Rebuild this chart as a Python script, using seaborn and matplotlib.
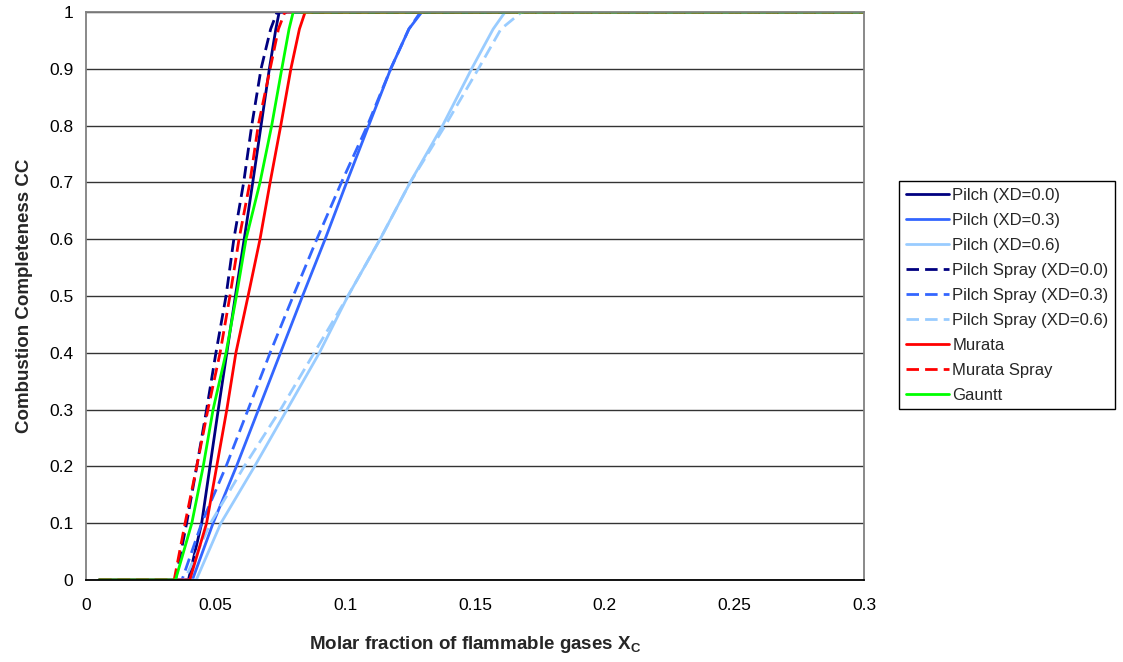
import matplotlib
matplotlib.use("Agg")
import matplotlib.pyplot as plt
import seaborn as sns
import pandas as pd

# ---- data (x at which each curve reaches the CC levels) ----
cc_levels = [0.0, 0.0, 0.1, 0.2, 0.3, 0.4, 0.5, 0.6, 0.7, 0.8, 0.9, 0.97, 1.0, 1.0]
x_start = 0.005
x_end = 0.3

pilch_00 = [0.0395, 0.0446, 0.0478, 0.0510, 0.0543, 0.0576, 0.0610, 0.0643, 0.0675, 0.0707, 0.0732, 0.0745]
pilch_03 = [0.0410, 0.0490, 0.0580, 0.0665, 0.0750, 0.0835, 0.0922, 0.1005, 0.1090, 0.1175, 0.1245, 0.1295]
pilch_06 = [0.0425, 0.0520, 0.0650, 0.0775, 0.0900, 0.1010, 0.1134, 0.1250, 0.1375, 0.1487, 0.1570, 0.1616]
spray_00 = [0.0345, 0.0388, 0.0427, 0.0465, 0.0501, 0.0540, 0.0570, 0.0608, 0.0639, 0.0675, 0.0712, 0.0737]
spray_03 = [0.0370, 0.0446, 0.0540, 0.0625, 0.0710, 0.0799, 0.0890, 0.0985, 0.1085, 0.1175, 0.1245, 0.1290]
spray_06 = [0.0380, 0.0480, 0.0610, 0.0750, 0.0880, 0.1010, 0.1134, 0.1250, 0.1385, 0.1513, 0.1600, 0.1680]
murata = [0.0400, 0.0465, 0.0504, 0.0543, 0.0578, 0.0625, 0.0671, 0.0710, 0.0751, 0.0790, 0.0823, 0.0845]
murata_spray = [0.0340, 0.0382, 0.0427, 0.0470, 0.0517, 0.0555, 0.0590, 0.0632, 0.0664, 0.0710, 0.0742, 0.0767]
gauntt = [0.0345, 0.0408, 0.0452, 0.0490, 0.0540, 0.0580, 0.0617, 0.0671, 0.0716, 0.0755, 0.0783, 0.0799]

labels = ["Pilch (XD=0.0)", "Pilch (XD=0.3)", "Pilch (XD=0.6)",
          "Pilch Spray (XD=0.0)", "Pilch Spray (XD=0.3)", "Pilch Spray (XD=0.6)",
          "Murata", "Murata Spray", "Gauntt"]
series = [pilch_00, pilch_03, pilch_06, spray_00, spray_03, spray_06,
          murata, murata_spray, gauntt]
colors = ["#000080", "#3366FF", "#99CCFF", "#000080", "#3366FF", "#99CCFF",
          "#FF0000", "#FF0000", "#00FF00"]
dashed = [False, False, False, True, True, True, False, True, False]

xticks = [0, 0.05, 0.1, 0.15, 0.2, 0.25, 0.3]
xtick_labels = ["0", "0.05", "0.1", "0.15", "0.2", "0.25", "0.3"]
yticks = [0, 0.1, 0.2, 0.3, 0.4, 0.5, 0.6, 0.7, 0.8, 0.9, 1.0]
ytick_labels = ["0", "0.1", "0.2", "0.3", "0.4", "0.5", "0.6", "0.7", "0.8", "0.9", "1"]

# ---- style ----
sns.set_style("white")
plt.rcParams["font.family"] = ["Liberation Sans", "DejaVu Sans"]
plt.rcParams["mathtext.fontset"] = "custom"
plt.rcParams["mathtext.rm"] = "Liberation Sans"
plt.rcParams["mathtext.bf"] = "Liberation Sans:bold"

fig = plt.figure(figsize=(11.23, 6.62), dpi=100)
ax = fig.add_axes([86 / 1123, 1 - 580 / 662, (864 - 86) / 1123, (580 - 12) / 662])

for lab, xs, col, dsh in zip(labels, series, colors, dashed):
    df = pd.DataFrame({"x": [x_start] + xs + [x_end], "cc": cc_levels})
    kw = dict(linestyle=(0, (4.5, 2.2))) if dsh else dict(linestyle="-")
    sns.lineplot(data=df, x="x", y="cc", ax=ax, color=col, lw=2.0,
                 label=lab, estimator=None, sort=False, **kw)

ax.set_xlim(0, 0.3)
ax.set_ylim(0, 1)
ax.set_xticks(xticks)
ax.set_xticklabels(xtick_labels)
ax.set_yticks(yticks)
ax.set_yticklabels(ytick_labels)
ax.tick_params(axis="both", labelsize=12.5, colors="black", direction="out",
               length=5, width=1)
ax.tick_params(axis="x", pad=8, color="black")
ax.tick_params(axis="y", pad=4, color="#808080")
ax.yaxis.grid(True, color="#333333", lw=1)
ax.xaxis.grid(False)
ax.set_axisbelow(True)
for side in ["top", "right", "left"]:
    ax.spines[side].set_color("#808080")
    ax.spines[side].set_linewidth(1.3)
ax.spines["bottom"].set_color("black")
ax.spines["bottom"].set_linewidth(1.3)

ax.set_xlabel(r"Molar fraction of flammable gases X$_\mathbf{C}$",
              fontsize=13.5, fontweight="bold", labelpad=15)
ax.set_ylabel("Combustion Completeness CC", fontsize=13.5, fontweight="bold",
              labelpad=12)

leg = ax.legend(loc="upper left", bbox_to_anchor=(899 / 1123, 1 - 181 / 662),
                bbox_transform=fig.transFigure, fontsize=12, frameon=True,
                fancybox=False, edgecolor="black", framealpha=1,
                handlelength=2.6, handletextpad=0.2, labelspacing=0.6,
                borderpad=0.4, borderaxespad=0)
leg.get_frame().set_linewidth(1.0)

fig.savefig("out.png", dpi=100)
